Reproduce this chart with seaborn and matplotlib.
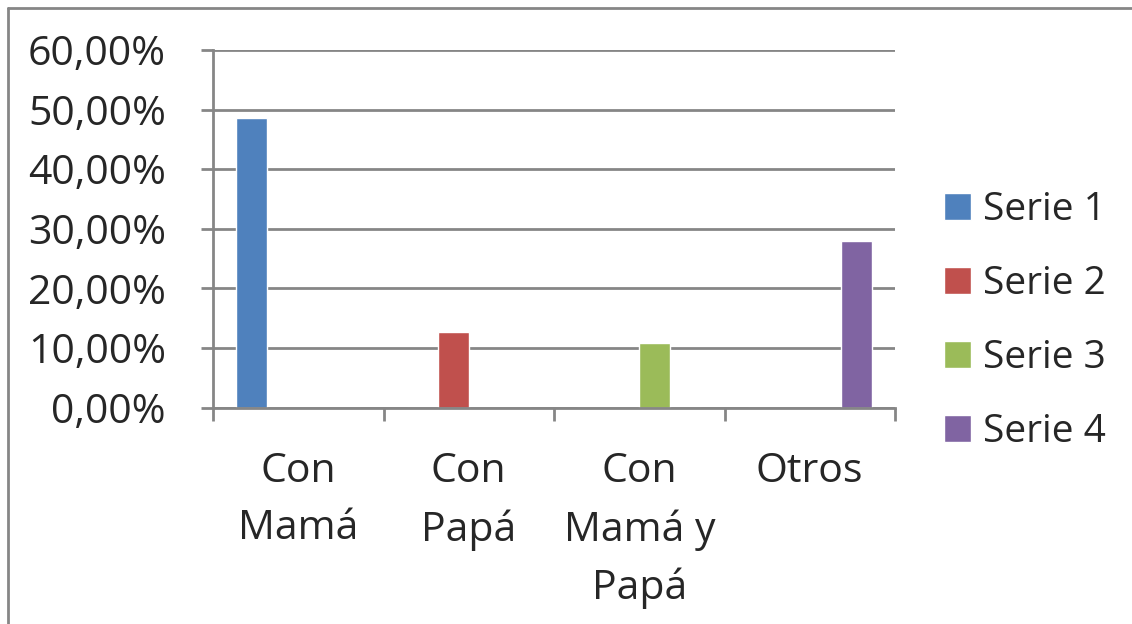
import matplotlib
matplotlib.use('Agg')
import matplotlib.pyplot as plt
from matplotlib.lines import Line2D
from matplotlib.patches import Patch
from matplotlib.ticker import FuncFormatter, FixedLocator
import seaborn as sns
import pandas as pd

categorias = ['Con\nMamá', 'Con\nPapá', 'Con\nMamá y\nPapá', 'Otros']
series = ['Serie 1', 'Serie 2', 'Serie 3', 'Serie 4']
serie_1 = [0.486, 0.0, 0.0, 0.0]
serie_2 = [0.0, 0.127, 0.0, 0.0]
serie_3 = [0.0, 0.0, 0.108, 0.0]
serie_4 = [0.0, 0.0, 0.0, 0.279]
colores = ['#4F81BD', '#C0504D', '#9BBB59', '#8064A2']

rows = []
for s, vals in zip(series, [serie_1, serie_2, serie_3, serie_4]):
    for c, v in zip(categorias, vals):
        rows.append({'cat': c, 'serie': s, 'valor': v})
df = pd.DataFrame(rows)

sns.set_style('white')
plt.rcParams['font.family'] = ['Open Sans', 'DejaVu Sans']

W, H = 1132, 624
fs = 29.5
fig = plt.figure(figsize=(W / 100, H / 100), dpi=100)
ax = fig.add_axes([213 / W, 1 - 407.5 / H, (895 - 213) / W, (407.5 - 50) / H])

sns.barplot(data=df, x='cat', y='valor', hue='serie', palette=colores,
            width=4 / 5.5, dodge=True, ax=ax, legend=False, saturation=1)

grid_c = '#868686'
ax.set_ylim(0, 0.6)
ax.set_xlim(-0.5, 3.5)
ax.set_yticks([i / 10 for i in range(7)])
ax.yaxis.set_major_formatter(FuncFormatter(lambda v, p: f'{v * 100:.2f}%'.replace('.', ',')))
ax.grid(axis='y', color=grid_c, linewidth=2)
ax.set_axisbelow(True)
ax.set_xlabel('')
ax.set_ylabel('')

ax.xaxis.set_minor_locator(FixedLocator([-0.5, 0.5, 1.5, 2.5, 3.5]))
ax.tick_params(axis='x', which='major', length=0, pad=32, labelsize=fs)
ax.tick_params(axis='x', which='minor', length=9, width=2, color=grid_c, direction='out', bottom=True)
ax.tick_params(axis='y', length=9, width=2, color=grid_c, direction='out', left=True,
               labelsize=fs, pad=25)
for lab in ax.get_xticklabels():
    lab.set_verticalalignment('top')
    lab.set_linespacing(1.53)

for k in ['top', 'right']:
    ax.spines[k].set_visible(False)
for k in ['left', 'bottom']:
    ax.spines[k].set_color(grid_c)
    ax.spines[k].set_linewidth(2)

handles = [Patch(facecolor=c, label=s) for c, s in zip(colores, series)]
fig.legend(handles=handles, loc='center left', bbox_to_anchor=(944 / W, 1 - 321 / H),
           frameon=False, fontsize=28, handlelength=0.69, handleheight=0.69,
           handletextpad=0.31, labelspacing=0.92, borderpad=0, borderaxespad=0)

# outer chart frame
fig.add_artist(Line2D([8 / W, 8 / W], [0, 1 - 8 / H], color=grid_c, linewidth=2))
fig.add_artist(Line2D([8 / W, 1], [1 - 8 / H, 1 - 8 / H], color=grid_c, linewidth=2))

fig.savefig('out.png', dpi=100)
